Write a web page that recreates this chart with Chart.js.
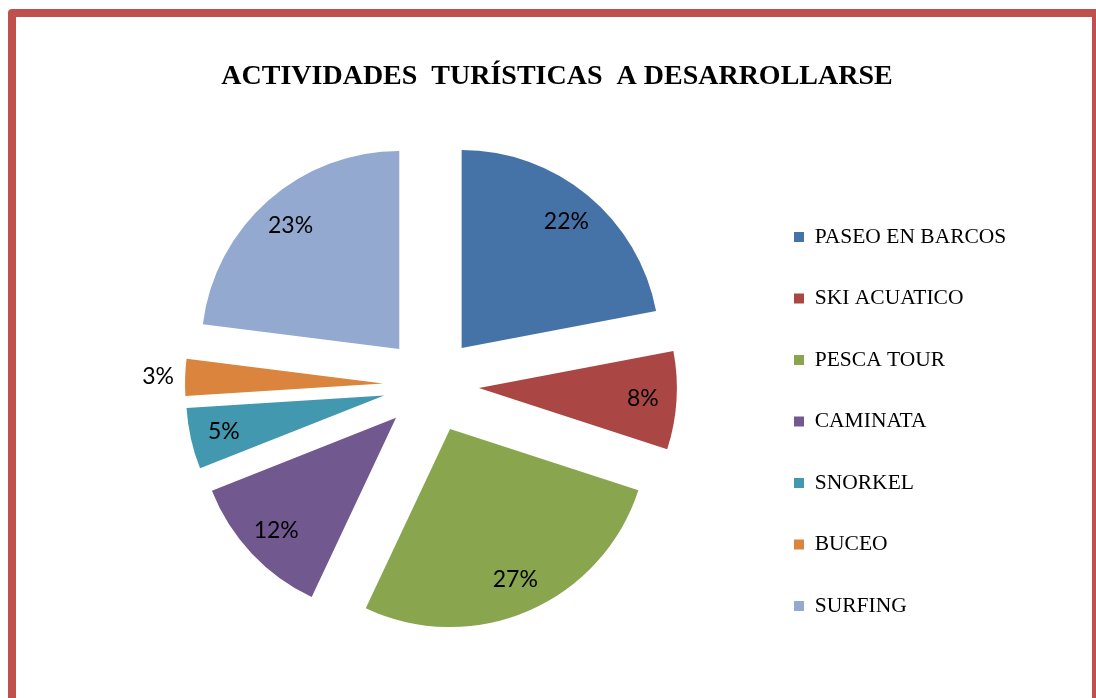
<!DOCTYPE html>
<html>
<head>
<meta charset="utf-8">
<script src="https://cdn.jsdelivr.net/npm/chart.js@4/dist/chart.umd.min.js"></script>
<style>
    html, body { margin: 0; padding: 0; background: #fff; overflow: hidden; width: 1096px; height: 698px; }
    .frame {
        position: absolute; left: 8px; top: 9px; width: 1092px; height: 720px;
        box-sizing: border-box; border: 8px solid #C0504D; border-radius: 4px;
    }
    #activity-chart { position: absolute; left: 18px; top: 0; }
</style>
</head>
<body>
<div class="frame"></div>
<canvas id="activity-chart" width="1078" height="698"></canvas>
<script>
const activityLabels = ['PASEO EN BARCOS', 'SKI ACUATICO', 'PESCA TOUR', 'CAMINATA', 'SNORKEL', 'BUCEO', 'SURFING']
const activityShares = [22, 8, 27, 12, 5, 3, 23]
const sliceColors = ['#4572A7', '#AA4643', '#89A54E', '#71588F', '#4198AF', '#DB843D', '#93A9CF']

// slices pulled away from the center, same radius for every slice
const explodePlugin = {
    id: 'explode',
    afterDatasetUpdate(chart, args, opts) {
        const meta = chart.getDatasetMeta(args.index)
        meta.data.forEach(arc => {
            if (arc._exploded) return
            arc._exploded = true
            const baseDraw = arc.draw
            arc.draw = function(ctx, area) {
                const mid = (this.startAngle + this.endAngle) / 2
                ctx.save()
                ctx.translate(Math.cos(mid) * opts.distance, Math.sin(mid) * opts.distance)
                baseDraw.call(this, ctx, area)
                ctx.restore()
            }
        })
    }
}

// percentage labels, small slices get the label outside
const percentLabelPlugin = {
    id: 'percentLabels',
    afterDatasetsDraw(chart, args, opts) {
        const ctx = chart.ctx
        const data = chart.data.datasets[0].data
        const total = data.reduce((a, b) => a + b, 0)
        const meta = chart.getDatasetMeta(0)
        const explode = chart.options.plugins.explode.distance
        ctx.save()
        ctx.font = opts.font
        ctx.fillStyle = '#000'
        ctx.textAlign = 'center'
        ctx.textBaseline = 'middle'
        meta.data.forEach((arc, i) => {
            const pct = Math.round(data[i] / total * 100)
            const mid = (arc.startAngle + arc.endAngle) / 2
            const dist = explode + (pct < 4 ? arc.outerRadius + 27 : arc.outerRadius * 0.83)
            ctx.fillText(pct + '%', arc.x + Math.cos(mid) * dist, arc.y + Math.sin(mid) * dist)
        })
        ctx.restore()
    }
}

function createPieChart() {
    const chart = document.querySelector('#activity-chart')
    new Chart(chart, {
        type: 'pie',
        data: {
            labels: activityLabels,
            datasets: [
                {
                    data: activityShares,
                    backgroundColor: sliceColors,
                    borderWidth: 0,
                    radius: 198
                }
            ]
        },
        options: {
            responsive: false,
            animation: false,
            events: [],
            layout: {
                padding: { left: 90, right: 90, top: 0, bottom: 33 }
            },
            plugins: {
                explode: { distance: 48 },
                percentLabels: { font: '23px Lato' },
                tooltip: { enabled: false },
                title: {
                    display: true,
                    text: 'ACTIVIDADES  TURÍSTICAS  A DESARROLLARSE',
                    color: '#000',
                    font: { family: '"Liberation Serif", "Times New Roman", serif', size: 28, weight: 'bold' },
                    padding: { top: 60.2, bottom: 11.2 }
                },
                legend: {
                    position: 'right',
                    align: 'start',
                    maxWidth: 252,
                    title: {
                        display: true,
                        text: '',
                        font: { size: 1, lineHeight: 1 },
                        padding: { top: 185.25, bottom: 0 }
                    },
                    labels: {
                        boxWidth: 10,
                        boxHeight: 10,
                        padding: 40,
                        color: '#000',
                        font: { family: '"Liberation Serif", "Times New Roman", serif', size: 21.5 }
                    }
                }
            }
        },
        plugins: [explodePlugin, percentLabelPlugin]
    })
}

createPieChart()
</script>
</body>
</html>
